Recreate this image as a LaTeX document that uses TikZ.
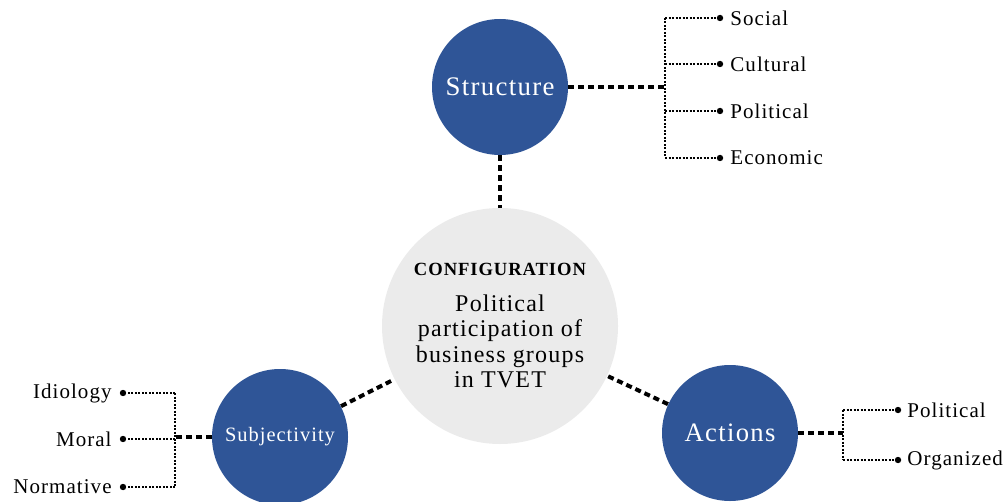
\documentclass[tikz,border=0pt]{standalone}
\usepackage{fontspec}
\setmainfont{Liberation Serif}[LetterSpace=5]
\definecolor{bubble}{HTML}{2F5597}
\definecolor{core}{HTML}{EBEBEB}
\tikzset{
  factor/.style={circle, fill=bubble, text=white, minimum size=68pt, inner sep=0pt},
  link/.style={line width=2pt, dash pattern=on 3pt off 2pt},
  branch/.style={line width=1pt, dash pattern=on 1pt off 0.75pt},
  leaf/.style={circle, fill=black, inner sep=0pt, minimum size=3.2pt},
  item/.style={font=\fontsize{10.5}{12}\selectfont, inner sep=0pt},
}

\begin{document}
\begin{tikzpicture}[x=0.5pt,y=-0.5pt]
      \useasboundingbox (0,0) rectangle (1004,502);

      % the three factors around the core
      \node[circle, fill=core, minimum size=118pt, inner sep=0pt, align=center,
            font=\fontsize{12}{12.75}\selectfont] (config) at (500,326)
            {{\bfseries\fontsize{9.3}{10}\selectfont CONFIGURATION}\\[5pt]
             Political\\participation of\\business groups\\in TVET};
      \node[factor, font=\fontsize{13.4}{14}\selectfont] (struct) at (500,87) {Structure};
      \node[factor, font=\fontsize{10.2}{12}\selectfont] (subj) at (280,437) {Subjectivity};
      \node[factor, font=\fontsize{13.3}{14}\selectfont] (act) at (730,433) {Actions};

      \draw[link] (struct) -- (config);
      \draw[link] (subj) -- (config);
      \draw[link] (act) -- (config);

      % structure
      \coordinate (sj) at (665,87);
      \node[leaf] (s1) at (720,18) {};
      \node[leaf] (s2) at (720,64) {};
      \node[leaf] (s3) at (720,111) {};
      \node[leaf] (s4) at (720,158) {};
      \node[item, anchor=west] (social) at (730,18) {Social};
      \node[item, anchor=west] (cultural) at (730,64) {Cultural};
      \node[item, anchor=west] (polit) at (730,111) {Political};
      \node[item, anchor=west] (econ) at (730,158) {Economic};
      \draw[link] (struct) -- (sj);
      \draw[branch] (sj |- s1) -- (sj |- s4);
      \draw[branch] (sj |- s1) -- (s1);
      \draw[branch] (sj |- s2) -- (s2);
      \draw[branch] (sj |- s3) -- (s3);
      \draw[branch] (sj |- s4) -- (s4);

      % subjectivity
      \coordinate (bj) at (175,437);
      \node[leaf] (b1) at (123,393) {};
      \node[leaf] (b2) at (123,439) {};
      \node[leaf] (b3) at (123,487) {};
      \node[item, anchor=east] (ideo) at (112,393) {Idiology};
      \node[item, anchor=east] (moral) at (112,439) {Moral};
      \node[item, anchor=east] (norm) at (112,487) {Normative};
      \draw[link] (subj) -- (bj);
      \draw[branch] (bj |- b1) -- (bj |- b3);
      \draw[branch] (bj |- b1) -- (b1);
      \draw[branch] (bj |- b2) -- (b2);
      \draw[branch] (bj |- b3) -- (b3);

      % actions
      \coordinate (aj) at (843,433);
      \node[leaf] (a1) at (898,410) {};
      \node[leaf] (a2) at (898,460) {};
      \node[item, anchor=west] (polact) at (907,410) {Political};
      \node[item, anchor=west] (organ) at (907,460) {Organized};
      \draw[link] (act) -- (aj);
      \draw[branch] (aj |- a1) -- (aj |- a2);
      \draw[branch] (aj |- a1) -- (a1);
      \draw[branch] (aj |- a2) -- (a2);

    \end{tikzpicture}
\end{document}
